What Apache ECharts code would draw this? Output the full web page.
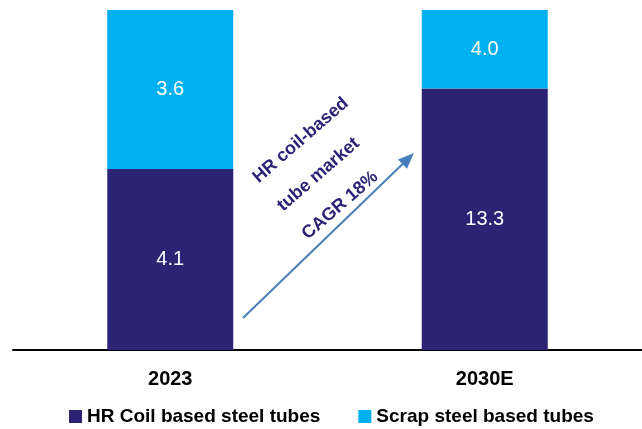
<!DOCTYPE html>
<html>
<head>
<meta charset="utf-8">
<script src="https://cdn.jsdelivr.net/npm/echarts@6/dist/echarts.min.js"></script>
<style>
  html, body { margin: 0; padding: 0; background: #fff; }
  #chart { width: 642px; height: 429px; }
</style>
</head>
<body>
<div id="chart"></div>
<script>
var categories = ['2023', '2030E'];
var hrCoil = [4.1, 13.3];
var scrap = [3.6, 4.0];
var seriesNames = ['HR Coil based steel tubes', 'Scrap steel based tubes'];
var annotationLines = ['HR coil-based', 'tube market', 'CAGR 18%'];

var NAVY = '#2C2375';
var CYAN = '#00B0F0';
var FONT = 'Liberation Sans, Arial, sans-serif';

// 100% stacked: bar heights are shares of each year's total; labels show values
function share(arr, i) { return arr[i] / (hrCoil[i] + scrap[i]) * 100; }
var hrShare = categories.map(function (c, i) { return share(hrCoil, i); });
var scrapShare = categories.map(function (c, i) { return share(scrap, i); });

var chart = echarts.init(document.getElementById('chart'), null, { renderer: 'canvas' });

function arrowGraphic() {
  var x1 = 243, y1 = 318, tx = 414, ty = 153;
  var dx = tx - x1, dy = ty - y1, L = Math.sqrt(dx * dx + dy * dy);
  var ux = dx / L, uy = dy / L, nx = -uy, ny = ux;
  var hl = 16, hw = 6.5;
  var bx = tx - hl * ux, by = ty - hl * uy;
  return [
    { type: 'line', shape: { x1: x1, y1: y1, x2: bx + 2 * ux, y2: by + 2 * uy },
      style: { stroke: '#4A7EBB', lineWidth: 2 } },
    { type: 'polygon', shape: { points: [[tx, ty], [bx + hw * nx, by + hw * ny], [bx - hw * nx, by - hw * ny]] },
      style: { fill: '#4A7EBB' } }
  ];
}

var option = {
  animation: false,
  backgroundColor: '#ffffff',
  grid: { left: 13, right: 0, top: 10, bottom: 79, containLabel: false },
  legend: {
    data: seriesNames,
    left: 64,
    top: 402,
    icon: 'rect',
    itemWidth: 13,
    itemHeight: 13,
    itemGap: 38,
    textStyle: { fontFamily: FONT, fontSize: 19, fontWeight: 'bold', color: '#000' }
  },
  xAxis: {
    type: 'category',
    data: categories,
    axisTick: { show: false },
    axisLine: { lineStyle: { color: '#000', width: 2 } },
    axisLabel: { margin: 19, fontFamily: FONT, fontSize: 20, fontWeight: 'bold', color: '#000' }
  },
  yAxis: { type: 'value', min: 0, max: 100, show: false, splitLine: { show: false } },
  series: [
    {
      name: seriesNames[0], type: 'bar', stack: 'total', barWidth: 126,
      data: hrShare,
      itemStyle: { color: NAVY },
      label: { show: true, position: 'inside', color: '#fff', fontFamily: FONT, fontSize: 20,
        formatter: function (p) { return hrCoil[p.dataIndex].toFixed(1); } }
    },
    {
      name: seriesNames[1], type: 'bar', stack: 'total', barWidth: 126,
      data: scrapShare,
      itemStyle: { color: CYAN },
      label: { show: true, position: 'inside', color: '#fff', fontFamily: FONT, fontSize: 20,
        formatter: function (p) { return scrap[p.dataIndex].toFixed(1); } }
    }
  ],
  graphic: arrowGraphic().concat([
    {
      type: 'text', x: 280, y: 208, rotation: 41 * Math.PI / 180,
      style: {
        text: annotationLines.join('\n'),
        x: 0, y: 0, align: 'left', verticalAlign: 'middle',
        fontFamily: FONT, fontSize: 18, fontWeight: 'bold', fill: NAVY, lineHeight: 37.5
      }
    }
  ])
};
chart.setOption(option);
</script>
</body>
</html>
